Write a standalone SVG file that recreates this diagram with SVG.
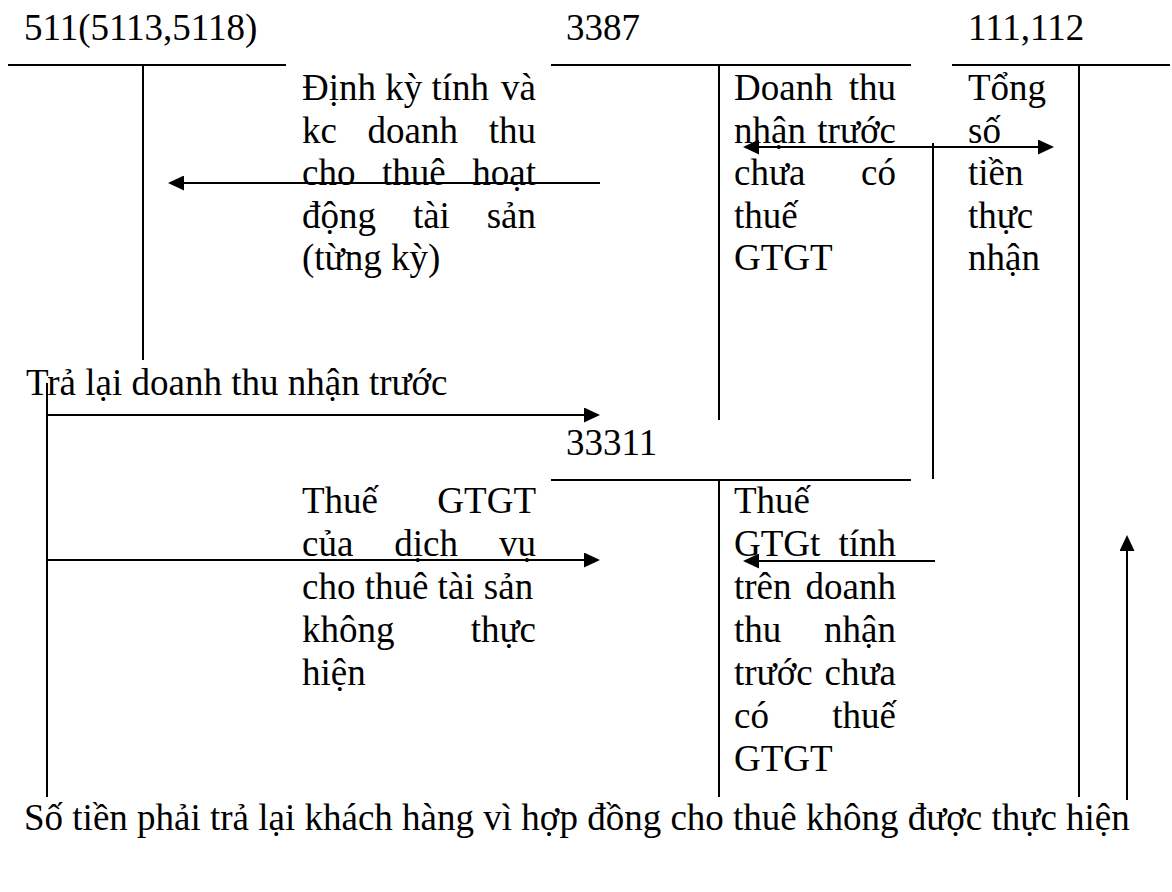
<svg xmlns="http://www.w3.org/2000/svg" width="1172" height="892" viewBox="0 0 1172 892">
<style>
  text { font-family: "Liberation Serif", "Times New Roman", serif; font-size: 37px; fill: #000; }
  .e { text-anchor: end; }
  .m { text-anchor: middle; }
  .ln { stroke: #000; stroke-width: 2; fill: none; }
  .ar { stroke: #000; stroke-width: 2; fill: none; marker-end: url(#ah); }
  .dar { stroke: #000; stroke-width: 2; fill: none; marker-start: url(#ahs); marker-end: url(#ah); }
</style>
<defs>
  <marker id="ah" markerUnits="userSpaceOnUse" markerWidth="16" markerHeight="15" refX="6" refY="7.5" orient="auto">
    <path d="M0,0 L16,7.5 L0,15 z" fill="#000"/>
  </marker>
  <marker id="ahs" markerUnits="userSpaceOnUse" markerWidth="16" markerHeight="15" refX="6" refY="7.5" orient="auto-start-reverse">
    <path d="M0,0 L16,7.5 L0,15 z" fill="#000"/>
  </marker>
</defs>
<rect width="1172" height="892" fill="#fff"/>

<g id="acc-511">
  <text x="24" y="40">511(5113,5118)</text>
  <line class="ln" x1="8" y1="65" x2="286" y2="65"/>
  <line class="ln" x1="143" y1="65" x2="143" y2="360"/>
</g>

<g id="acc-3387">
  <text x="566" y="40">3387</text>
  <line class="ln" x1="551" y1="65" x2="911" y2="65"/>
  <line class="ln" x1="719" y1="65" x2="719" y2="420"/>
</g>

<g id="acc-111-112">
  <text x="968" y="40">111,112</text>
  <line class="ln" x1="952" y1="65" x2="1170" y2="65"/>
  <line class="ln" x1="1079" y1="65" x2="1079" y2="797"/>
</g>

<g id="acc-33311">
  <text x="566" y="455">33311</text>
  <line class="ln" x1="551" y1="480" x2="911" y2="480"/>
  <line class="ln" x1="719" y1="480" x2="719" y2="797"/>
</g>

<g id="connectors">
  <line class="ar" x1="600" y1="183" x2="178" y2="183"/>
  <line class="ln" x1="47" y1="383" x2="47" y2="797"/>
  <line class="ar" x1="47" y1="415" x2="590" y2="415"/>
  <line class="ar" x1="47" y1="560" x2="590" y2="560"/>
  <line class="dar" x1="753" y1="147" x2="1044" y2="147"/>
  <line class="ln" x1="933" y1="143" x2="933" y2="479"/>
  <line class="ar" x1="935" y1="561" x2="753" y2="561"/>
  <line class="ar" x1="1127" y1="800" x2="1127" y2="545"/>
</g>

<g id="label-dinh-ky">
  <text x="302" y="100">Định kỳ tính</text>
  <text class="e" x="536" y="100">và</text>
  <text x="302" y="142.5">kc</text>
  <text class="m" x="412.8" y="142.5">doanh</text>
  <text class="e" x="536" y="142.5">thu</text>
  <text x="302" y="185">cho</text>
  <text class="m" x="413.9" y="185">thuê</text>
  <text class="e" x="536" y="185">hoạt</text>
  <text x="302" y="227.5">động</text>
  <text class="m" x="431.4" y="227.5">tài</text>
  <text class="e" x="536" y="227.5">sản</text>
  <text x="302" y="270">(từng kỳ)</text>
</g>

<g id="label-doanh-thu">
  <text x="734" y="100">Doanh</text>
  <text class="e" x="896" y="100">thu</text>
  <text x="734" y="142.5">nhận</text>
  <text class="e" x="896" y="142.5">trước</text>
  <text x="734" y="185">chưa</text>
  <text class="e" x="896" y="185">có</text>
  <text x="734" y="227.5">thuế</text>
  <text x="734" y="270">GTGT</text>
</g>

<g id="label-tong-so-tien">
  <text x="968" y="100">Tổng</text>
  <text x="968" y="142.5">số</text>
  <text x="968" y="185">tiền</text>
  <text x="968" y="227.5">thực</text>
  <text x="968" y="270">nhận</text>
</g>

<g id="label-tra-lai">
  <text x="26" y="395">Trả lại doanh thu nhận trước</text>
</g>

<g id="label-thue-dich-vu">
  <text x="302" y="513">Thuế</text>
  <text class="e" x="536" y="513">GTGT</text>
  <text x="302" y="556">của</text>
  <text class="m" x="426.2" y="556">dịch</text>
  <text class="e" x="536" y="556">vụ</text>
  <text x="302" y="599">cho thuê tài sản</text>
  <text x="302" y="642">không</text>
  <text class="e" x="536" y="642">thực</text>
  <text x="302" y="685">hiện</text>
</g>

<g id="label-thue-gtgt">
  <text x="734" y="513">Thuế</text>
  <text x="734" y="556">GTGt</text>
  <text class="e" x="896" y="556">tính</text>
  <text x="734" y="599">trên</text>
  <text class="e" x="896" y="599">doanh</text>
  <text x="734" y="642">thu</text>
  <text class="e" x="896" y="642">nhận</text>
  <text x="734" y="685">trước</text>
  <text class="e" x="896" y="685">chưa</text>
  <text x="734" y="728">có</text>
  <text class="e" x="896" y="728">thuế</text>
  <text x="734" y="771">GTGT</text>
</g>

<g id="label-so-tien">
  <text x="24" y="830">Số tiền phải trả lại khách hàng vì hợp đồng cho thuê không được thực hiện</text>
</g>
</svg>
